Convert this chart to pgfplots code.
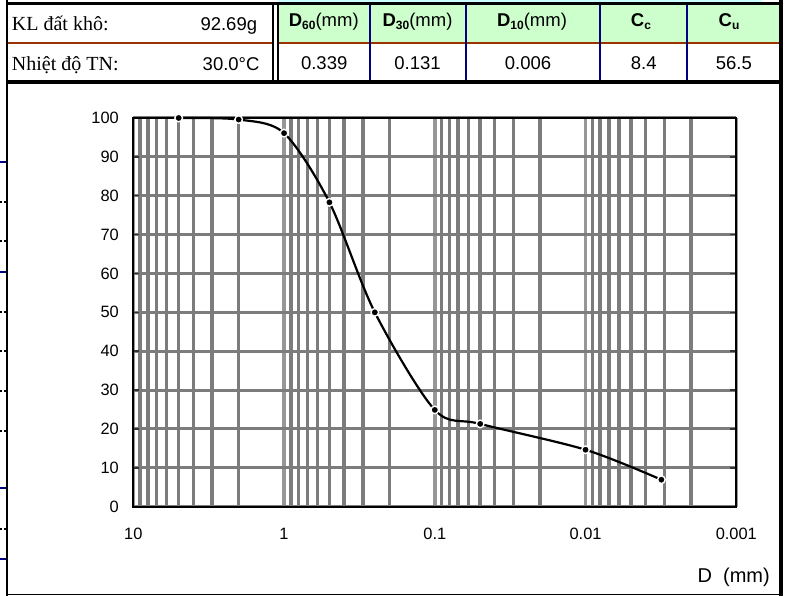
\documentclass[border=0pt]{standalone}
\usepackage{fontspec}
\setmainfont{Liberation Serif}
\newfontfamily\arial{Liberation Sans}
\usepackage{pgfplots}
\pgfplotsset{compat=1.18}
\definecolor{navyb}{HTML}{000080}
\definecolor{brownl}{HTML}{993300}
\definecolor{hgreen}{HTML}{CCFFCC}
\definecolor{hcyan}{HTML}{CCFFFF}
\definecolor{gridg}{HTML}{7C7C7C}
\definecolor{gridm}{HTML}{979797}
\newcommand{\fs}[1]{\fontsize{#1}{#1}\selectfont}
\begin{document}
\begin{tikzpicture}[x=1pt,y=1pt]
\path[use as bounding box] (0,0) rectangle (787,596);
% header backgrounds
\fill[hcyan] (278,592) rectangle (762,596);
\fill[hgreen] (278,553) rectangle (780,592.5);
% brown divider
\draw[brownl, line width=2.8pt] (7,553) -- (272.7,553);
\draw[brownl, line width=2.8pt] (278,553) -- (781,553);
% navy verticals
\foreach \xx in {370,466,600,686.7}{\draw[navyb, line width=2.4pt] (\xx,514) -- (\xx,592.5);}
% double black line
\draw[black, line width=1.7pt] (272.7,514) -- (272.7,592.5);
\draw[black, line width=1.7pt] (278,514) -- (278,592.5);
% top and table bottom lines
\draw[black, line width=2.5pt] (5.5,592.5) -- (783,592.5);
\draw[black, line width=4.2pt] (5.5,514) -- (783,514);
% outer frame
\draw[black, line width=2.9pt] (7,0) -- (7,596);
\draw[black, line width=3.2pt] (781,0) -- (781,596);
\draw[black, line width=1.4pt] (7,1.5) -- (781,1.5);
% left-edge fragments
\foreach \yy in {433.7,324.3,107.7,37}{\draw[navyb, line width=2.2pt] (0,\yy) -- (5.6,\yy);}
\foreach \yy in {394,355,284.3,245,205.3,165.3,67}{\draw[black, line width=2.2pt, dash pattern=on 2pt off 1.5pt] (0,\yy) -- (5.6,\yy);}
% table texts
\node[anchor=base west, inner sep=0] at (11.7,565.3) {\fs{20}KL đất khô:};
\node[anchor=base east, inner sep=0] at (257.3,565.3) {\arial\fs{18.5}92.69g};
\node[anchor=base west, inner sep=0] at (11.7,525) {\fs{20}Nhiệt độ TN:};
\node[anchor=base east, inner sep=0] at (259.7,525) {\arial\fs{18.5}30.0°C};
\node[anchor=base, inner sep=0] at (323.8,569.3) {\arial\fs{18.5}\textbf{D}\raisebox{-3.3pt}{\fs{12}\textbf{60}}(mm)};
\node[anchor=base, inner sep=0] at (417.5,569.3) {\arial\fs{18.5}\textbf{D}\raisebox{-3.3pt}{\fs{12}\textbf{30}}(mm)};
\node[anchor=base, inner sep=0] at (532,569.3) {\arial\fs{18.5}\textbf{D}\raisebox{-3.3pt}{\fs{12}\textbf{10}}(mm)};
\node[anchor=base, inner sep=0] at (641,569.3) {\arial\fs{18.5}\textbf{C}\raisebox{-3.3pt}{\fs{12}\textbf{c}}};
\node[anchor=base, inner sep=0] at (729,569.3) {\arial\fs{18.5}\textbf{C}\raisebox{-3.3pt}{\fs{12}\textbf{u}}};
\node[anchor=base, inner sep=0] at (324.2,526) {\arial\fs{18.5}0.339};
\node[anchor=base, inner sep=0] at (417.5,526) {\arial\fs{18.5}0.131};
\node[anchor=base, inner sep=0] at (528,526) {\arial\fs{18.5}0.006};
\node[anchor=base, inner sep=0] at (643.7,526) {\arial\fs{18.5}8.4};
\node[anchor=base, inner sep=0] at (733.8,526) {\arial\fs{18.5}56.5};
% axis label
\node[anchor=base east, inner sep=0] at (770,13) {\arial\fs{20}D~~(mm)};
\begin{axis}[
  at={(434.8pt,283.65pt)}, anchor=center,
  scale only axis, width=603pt, height=388.7pt,
  xmode=log, x dir=reverse,
  xmin=0.001, xmax=10, ymin=0, ymax=100,
  xtick={10,1,0.1,0.01,0.001},
  xticklabels={10,1,0.1,0.01,0.001},
  minor xtick={0.002,0.003,0.004,0.005,0.006,0.007,0.008,0.009,
               0.02,0.03,0.04,0.05,0.06,0.07,0.08,0.09,
               0.2,0.3,0.4,0.5,0.6,0.7,0.8,0.9,
               2,3,4,5,6,7,8,9},
  ytick={0,10,20,30,40,50,60,70,80,90,100},
  yticklabels={0,10,20,30,40,50,60,70,80,90,100},
  xmajorgrids, xminorgrids, ymajorgrids,
  major x grid style={gridm, line width=3.4pt},
  minor x grid style={gridg, line width=3.4pt},
  major y grid style={gridg, line width=3pt},
  xtick style={draw=none},
  ytick style={black!80, line width=1.5pt},
  major tick length=6pt, minor tick length=0pt,
  tick align=inside,
  axis line style={black, line width=2pt},
  tick label style={font=\arial\fs{16.4}},
  xticklabel style={anchor=base, inner sep=0pt, yshift=-32.6pt},
  yticklabel style={anchor=east, inner sep=0pt, xshift=-14.3pt},
  clip=false,
]
\addplot[black, line width=2.2pt, smooth, mark=*, mark size=3.8pt,
  mark options={fill=black, draw=white, line width=1.4pt}]
  coordinates {(5,100) (2,99.6) (1,96.1) (0.5,78.3) (0.25,50) (0.1,24.9) (0.05,21.3) (0.01,14.65) (0.00314,6.94)};
\end{axis}
\end{tikzpicture}
\end{document}
